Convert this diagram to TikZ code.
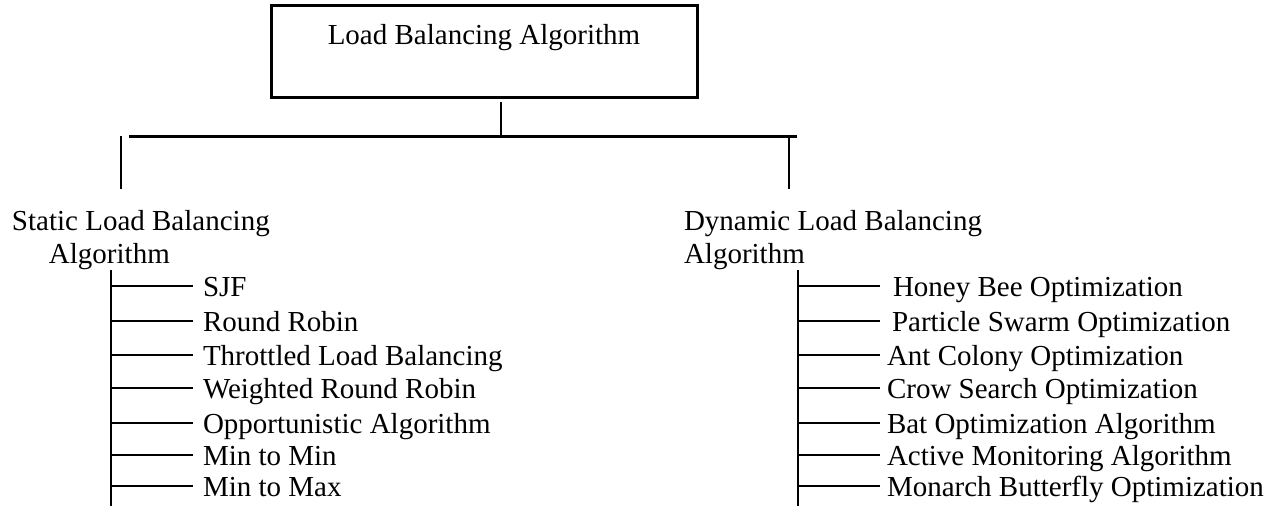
\documentclass[tikz,border=0pt]{standalone}
\usepackage{fontspec}
\setmainfont{Liberation Serif}
\begin{document}
\begin{tikzpicture}[x=1pt,y=-1pt,
  every node/.style={font=\fontsize{29}{33}\selectfont, inner sep=0pt, outer sep=0pt},
  rootbox/.style={draw, line width=3pt, minimum width=426pt, text height=40pt, text depth=52pt},
  head/.style={anchor=base west, align=left},
  leaf/.style={anchor=west, text height=20pt, text depth=0pt},
  link/.style={line width=2.2pt},
  bus/.style={line width=3pt}]
\useasboundingbox (0,0) rectangle (1278,506);
% top box and bus
\node[rootbox, anchor=base] (root) at (484,45) {Load Balancing Algorithm};
\coordinate (stub) at (501,102);
\coordinate (busL) at (129,136);
\coordinate (busR) at (797,136);
\coordinate (armS) at (121,136);
\coordinate (armD) at (789,136);
\draw[link] (stub) -- (stub |- busL);
\draw[bus] (busL) -- (busR);
\draw[link] (armS) -- ++(0,53);
\draw[link] (armD) -- ++(0,53);
% the two kinds (base = last line)
\node[head] (shead) at (12,263) {Static Load Balancing\\\hspace*{37pt}Algorithm};
\node[head] (dhead) at (684,263) {Dynamic Load Balancing\\Algorithm};
\coordinate (strunk) at (111,270);
\coordinate (dtrunk) at (798,270);
\coordinate (send) at (193,270);
\coordinate (dend) at (880,270);
\draw[link] (strunk) -- ++(0,236);
\draw[link] (dtrunk) -- ++(0,236);
% static leaves
\node[leaf] (s1) at (203,286) {SJF};
\node[leaf] (s2) at (203,321) {Round Robin};
\node[leaf] (s3) at (203,355) {Throttled Load Balancing};
\node[leaf] (s4) at (203,388) {Weighted Round Robin};
\node[leaf] (s5) at (203,423) {Opportunistic Algorithm};
\node[leaf] (s6) at (203,455) {Min to Min};
\node[leaf] (s7) at (203,486) {Min to Max};
\draw[link] (s1 -| strunk) -- (s1 -| send);
\draw[link] (s2 -| strunk) -- (s2 -| send);
\draw[link] (s3 -| strunk) -- (s3 -| send);
\draw[link] (s4 -| strunk) -- (s4 -| send);
\draw[link] (s5 -| strunk) -- (s5 -| send);
\draw[link] (s6 -| strunk) -- (s6 -| send);
\draw[link] (s7 -| strunk) -- (s7 -| send);
% dynamic leaves
\node[leaf] (d1) at (893,286) {Honey Bee Optimization};
\node[leaf] (d2) at (892,321) {Particle Swarm Optimization};
\node[leaf] (d3) at (887,355) {Ant Colony Optimization};
\node[leaf] (d4) at (887,388) {Crow Search Optimization};
\node[leaf] (d5) at (887,423) {Bat Optimization Algorithm};
\node[leaf] (d6) at (887,455) {Active Monitoring Algorithm};
\node[leaf] (d7) at (887,486) {Monarch Butterfly Optimization};
\draw[link] (d1 -| dtrunk) -- (d1 -| dend);
\draw[link] (d2 -| dtrunk) -- (d2 -| dend);
\draw[link] (d3 -| dtrunk) -- (d3 -| dend);
\draw[link] (d4 -| dtrunk) -- (d4 -| dend);
\draw[link] (d5 -| dtrunk) -- (d5 -| dend);
\draw[link] (d6 -| dtrunk) -- (d6 -| dend);
\draw[link] (d7 -| dtrunk) -- (d7 -| dend);
\end{tikzpicture}
\end{document}
